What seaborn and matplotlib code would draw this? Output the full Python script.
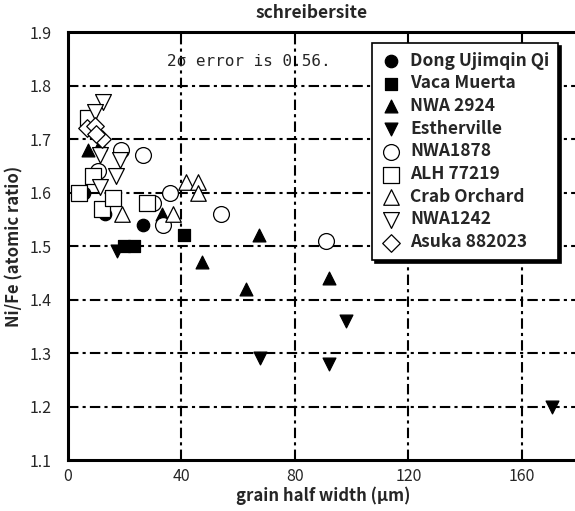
import matplotlib
matplotlib.use("Agg")
import matplotlib.pyplot as plt
import seaborn as sns
import pandas as pd

sns.set_style("white")
plt.rcParams['font.family'] = ['Noto Sans CJK JP', 'DejaVu Sans']

series_names = ["Dong Ujimqin Qi", "Vaca Muerta", "NWA 2924", "Estherville",
                "NWA1878", "ALH 77219", "Crab Orchard", "NWA1242", "Asuka 882023"]

dong_x = [5.6, 13.0, 26.4]
dong_y = [1.60, 1.56, 1.54]
vaca_x = [19.7, 23.3, 40.8]
vaca_y = [1.50, 1.50, 1.52]
nwa2924_x = [7.1, 11.3, 33.0, 67.3, 47.3, 62.8, 92.0]
nwa2924_y = [1.68, 1.69, 1.56, 1.52, 1.47, 1.42, 1.44]
esth_x = [17.3, 67.7, 92.0, 98.0, 170.5]
esth_y = [1.49, 1.29, 1.28, 1.36, 1.20]
nwa1878_x = [10.5, 18.8, 26.5, 29.8, 35.8, 33.5, 53.8, 91.0]
nwa1878_y = [1.64, 1.68, 1.67, 1.58, 1.60, 1.54, 1.56, 1.51]
alh_x = [7.0, 8.8, 3.9, 12.0, 16.0, 28.0]
alh_y = [1.74, 1.63, 1.60, 1.57, 1.59, 1.58]
crab_x = [19.0, 37.0, 41.5, 46.0, 46.0]
crab_y = [1.56, 1.56, 1.62, 1.62, 1.60]
nwa1242_x = [12.3, 9.5, 11.3, 18.5, 17.0, 11.3]
nwa1242_y = [1.77, 1.75, 1.67, 1.66, 1.63, 1.61]
asuka_x = [6.6, 9.5, 12.0, 10.0]
asuka_y = [1.72, 1.725, 1.70, 1.71]

xs = [dong_x, vaca_x, nwa2924_x, esth_x, nwa1878_x, alh_x, crab_x, nwa1242_x, asuka_x]
ys = [dong_y, vaca_y, nwa2924_y, esth_y, nwa1878_y, alh_y, crab_y, nwa1242_y, asuka_y]

x_ticks = [0, 40, 80, 120, 160]
y_ticks = [1.1, 1.2, 1.3, 1.4, 1.5, 1.6, 1.7, 1.8, 1.9]

markers = ["o", "s", "^", "v", "o", "s", "^", "v", "D"]
faces = ["black"] * 4 + ["white"] * 5
sizes = [80, 85, 85, 85, 130, 125, 125, 130, 80]

fig = plt.figure(figsize=(5.75, 5.11), dpi=100)
ax = fig.add_axes([68/575, 1-460/511, 510.5/575, 428/511])

for name, x, y, m, fc, s in zip(series_names, xs, ys, markers, faces, sizes):
    df = pd.DataFrame({"x": x, "y": y})
    sns.scatterplot(data=df, x="x", y="y", marker=m, color=fc, edgecolor="black",
                    linewidth=0.9, s=s, ax=ax, label=name, zorder=3)

ax.set_xlim(0, 180)
ax.set_ylim(1.1, 1.9)
ax.set_xticks(x_ticks)
ax.set_yticks(y_ticks)
ax.set_xticklabels([str(v) for v in x_ticks])
ax.set_yticklabels([f"{v:.1f}" for v in y_ticks])
ax.tick_params(direction="in", length=4, width=1.2, labelsize=11.5, pad=6)
ax.tick_params(axis="y", pad=12)

for v in x_ticks[1:]:
    ax.axvline(v, color="black", lw=1.5, dashes=(5, 2, 1.5, 2), zorder=1)
for v in y_ticks[1:-1]:
    ax.axhline(v, color="black", lw=1.5, dashes=(5, 2, 1.5, 2), zorder=1)

for side in ["left", "bottom", "top"]:
    ax.spines[side].set_linewidth(2.2)
    ax.spines[side].set_color("black")
ax.spines["right"].set_visible(False)

ax.set_xlabel("grain half width (μm)", fontsize=12, fontweight="bold", labelpad=1)
ax.set_ylabel("Ni/Fe (atomic ratio)", fontsize=12, fontweight="bold", labelpad=4)
fig.text(312/575, 1-13/511, "schreibersite", ha="center", va="center",
         fontsize=12.5, fontweight="bold")
ax.text(35, 1.845, "2σ error is 0.56.", fontsize=11.5, ha="left", va="center",
        family=["DejaVu Sans Mono"])

leg = ax.legend(loc="upper left", bbox_to_anchor=(372/575, 1-43/511),
                bbox_transform=fig.transFigure, frameon=True, fancybox=False,
                shadow={"color": "black", "alpha": 1.0},
                prop={"weight": "bold", "size": 12.5}, labelspacing=0.27,
                handletextpad=0.5, borderpad=0.5, handlelength=1.2,
                borderaxespad=0)
leg.get_frame().set_edgecolor("black")
leg.get_frame().set_linewidth(1.2)

fig.savefig("out.png", dpi=100)
